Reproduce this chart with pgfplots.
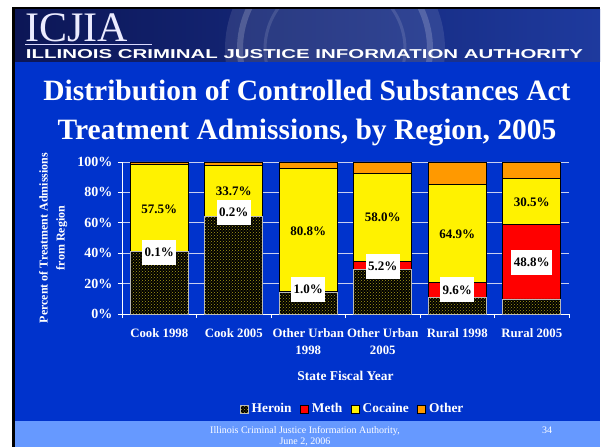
\documentclass[border=0pt]{standalone}
\usepackage{fontspec}
\setmainfont{Liberation Serif}
\setsansfont{Liberation Sans}
\usepackage{pgfplots}
\pgfplotsset{compat=1.18}
\usetikzlibrary{patterns}

\definecolor{slideblue}{HTML}{0033CC}
\definecolor{footblue}{HTML}{6699FF}
\definecolor{hdrdark}{HTML}{0C1656}
\definecolor{hdrmid}{HTML}{3452B0}
\definecolor{hdrright}{HTML}{1E3A9E}
\definecolor{heroindot}{HTML}{A89E18}
\definecolor{othercol}{HTML}{FF9900}
\definecolor{gridcol}{HTML}{C8D0F0}

% shares of admissions (percent), one row per region/year
\pgfplotstableread{
x heroin meth cocaine other
0 41.0 0.1 57.5 1.4
1 64.1 0.2 33.7 2.0
2 14.0 1.0 80.8 4.2
3 29.4 5.2 58.0 7.4
4 11.0 9.6 64.9 14.5
5  9.9 48.8 30.5 10.8
}\shares

\begin{document}
\begin{tikzpicture}
\useasboundingbox (0pt,0pt) rectangle (602pt,447pt);
% slide background
\fill[white] (0pt,0pt) rectangle (602pt,447pt);
\fill[black] (12pt,0pt) rectangle (600pt,440pt);
\fill[slideblue] (15pt,0pt) rectangle (600pt,385pt);
\fill[footblue] (15pt,0pt) rectangle (600pt,26pt);
\shade[left color=hdrdark, middle color=hdrmid, right color=hdrright]
  (15pt,385pt) rectangle (600pt,437pt);
\begin{scope}
  \clip (15pt,385pt) rectangle (600pt,437pt);
  \fill[white, opacity=0.10] (335pt,398pt) circle (110pt);
  \draw[white, opacity=0.18, line width=6pt] (335pt,398pt) circle (95pt);
  \draw[white, opacity=0.12, line width=3pt] (335pt,398pt) circle (70pt);
\end{scope}

% header
\node[anchor=base west, inner sep=0pt, text=white!92!blue]
  at (25pt,405pt) {\fontsize{42}{42}\selectfont ICJIA};
\draw[white!85!blue, line width=1.2pt] (25pt,402.5pt) -- (152pt,402.5pt);
\node[anchor=base, inner sep=0pt, text=white] at (304.5pt,388pt)
  {\resizebox{557pt}{9pt}{\sffamily\bfseries ILLINOIS CRIMINAL JUSTICE INFORMATION AUTHORITY}};

% title
\node[anchor=base, inner sep=0pt, text=white] at (307pt,346pt)
  {\fontsize{29.5}{36}\selectfont\bfseries Distribution of Controlled Substances Act};
\node[anchor=base, inner sep=0pt, text=white] at (307pt,307pt)
  {\fontsize{29.5}{36}\selectfont\bfseries Treatment Admissions, by Region, 2005};

\begin{axis}[
  at={(122pt,133pt)}, anchor=south west,
  scale only axis, width=447pt, height=152pt,
  ybar stacked, bar width=0.78,
  xmin=-0.5, xmax=5.5, ymin=0, ymax=100,
  clip=false,
  axis lines*=left,
  axis line style={white, line width=0.8pt},
  tick style={white, line width=0.8pt},
  major tick length=4pt,
  tick align=outside,
  xtick={-0.5,0.5,1.5,2.5,3.5,4.5,5.5},
  x tick label as interval,
  xticklabels={Cook 1998, Cook 2005, {Other Urban\\1998}, {Other Urban\\2005}, Rural 1998, Rural 2005},
  xticklabel style={align=center, font=\fontsize{12.8}{17}\selectfont\bfseries, text=white, yshift=-7pt},
  ytick={0,20,40,60,80,100},
  yticklabels={0\%,20\%,40\%,60\%,80\%,100\%},
  yticklabel style={font=\fontsize{14}{16}\selectfont\bfseries, text=white, xshift=-2pt},
  ymajorgrids,
  major grid style={gridcol, line width=0.8pt},
  xlabel={State Fiscal Year},
  xlabel style={font=\fontsize{13.4}{16}\selectfont\bfseries, text=white,
    at={(axis description cs:0.5,-0.405)}, anchor=center},
  ylabel={Percent of Treatment Admissions\\from Region},
  ylabel style={align=center, font=\fontsize{12}{17}\selectfont\bfseries, text=white,
    at={(axis description cs:-0.154,0.5)}, anchor=center},
  legend columns=4,
  legend style={at={(0.516,-0.625)}, anchor=center, draw=none, fill=none,
    text=white, font=\fontsize{13.4}{16}\selectfont\bfseries,
    /tikz/every odd column/.append style={column sep=1pt},
    /tikz/every even column/.append style={column sep=6.5pt}},
  legend image code/.code={\draw[#1] (0pt,-4pt) rectangle (8pt,4pt);},
]
\addplot[fill=black, draw=gray!55, line width=0.8pt,
  postaction={pattern=crosshatch dots, pattern color=heroindot}]
  table[x=x, y=heroin] {\shares};
\addlegendentry{Heroin}
\addplot[fill=red, draw=black, line width=0.8pt] table[x=x, y=meth] {\shares};
\addlegendentry{Meth}
\addplot[fill=yellow, draw=black, line width=0.8pt] table[x=x, y=cocaine] {\shares};
\addlegendentry{Cocaine}
\addplot[fill=othercol, draw=black, line width=0.8pt] table[x=x, y=other] {\shares};
\addlegendentry{Other}
\end{axis}

% value labels
\begin{axis}[
  at={(122pt,133pt)}, anchor=south west,
  scale only axis, width=447pt, height=152pt,
  xmin=-0.5, xmax=5.5, ymin=0, ymax=100,
  hide axis, clip=false,
]
\addplot[draw=none, nodes near coords, point meta=explicit symbolic,
  every node near coord/.append style={anchor=center, fill=white, text=black,
    inner xsep=2.5pt, minimum height=25pt,
    font=\fontsize{13}{15}\selectfont\bfseries}]
  coordinates {(0,40.5)[0.1\%] (1,66.8)[0.2\%] (2,16.1)[1.0\%]
               (3,31.3)[5.2\%] (4,15.8)[9.6\%] (5,33.9)[48.8\%]};
\addplot[draw=none, nodes near coords, point meta=explicit symbolic,
  every node near coord/.append style={anchor=center, text=black,
    font=\fontsize{13}{15}\selectfont\bfseries}]
  coordinates {(0,69.0)[57.5\%] (1,80.5)[33.7\%] (2,54.6)[80.8\%]
               (3,63.4)[58.0\%] (4,52.4)[64.9\%] (5,73.7)[30.5\%]};
\end{axis}

% footer
\node[anchor=base, inner sep=0pt, text=white] at (305pt,14pt)
  {\fontsize{10}{11}\selectfont Illinois Criminal Justice Information Authority,};
\node[anchor=base, inner sep=0pt, text=white] at (305pt,2.5pt)
  {\fontsize{10}{11}\selectfont June 2, 2006};
\node[anchor=base, inner sep=0pt, text=white] at (547pt,14pt)
  {\fontsize{10}{11}\selectfont 34};
\end{tikzpicture}
\end{document}
